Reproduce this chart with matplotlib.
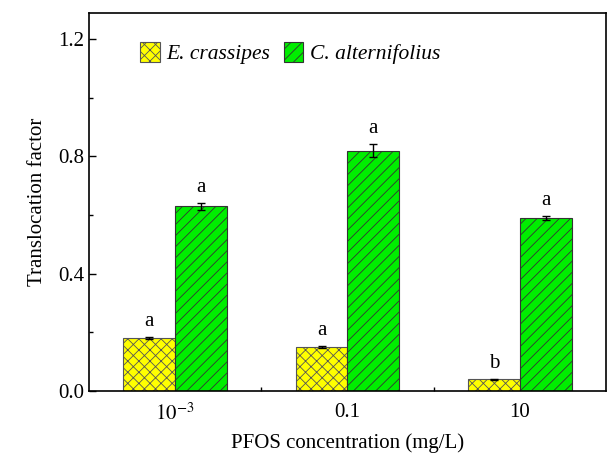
import numpy as np
import matplotlib.pyplot as plt
from matplotlib.ticker import MultipleLocator, FixedLocator

plt.rcParams['font.family'] = ['Liberation Serif', 'DejaVu Serif']
plt.rcParams['mathtext.fontset'] = 'stix'
plt.rcParams['hatch.linewidth'] = 0.6

conc = ['$10^{-3}$', '0.1', '10']
ec_vals = [0.18, 0.15, 0.04]
ec_err = [0.003, 0.003, 0.002]
ca_vals = [0.63, 0.82, 0.59]
ca_err = [0.012, 0.022, 0.006]
ec_sig = ['a', 'a', 'b']
ca_sig = ['a', 'a', 'a']

x = np.arange(len(conc))
w = 0.3

fig, ax = plt.subplots(figsize=(6.08, 4.61), dpi=100)
fig.subplots_adjust(left=0.146, right=0.997, top=0.972, bottom=0.152)

ax.bar(x - w/2, ec_vals, w, yerr=ec_err, color='#ffff00', edgecolor='#555555',
       hatch='xxx', linewidth=0.8, capsize=3, error_kw=dict(elinewidth=1, capthick=1),
       label='E. crassipes')
ax.bar(x + w/2, ca_vals, w, yerr=ca_err, color='#00ee00', edgecolor='#333333',
       hatch='///', linewidth=0.8, capsize=3, error_kw=dict(elinewidth=1, capthick=1),
       label='C. alternifolius')

for i in range(len(conc)):
    ax.text(x[i] - w/2, ec_vals[i] + ec_err[i] + 0.02, ec_sig[i], ha='center', va='bottom', fontsize=15)
    ax.text(x[i] + w/2, ca_vals[i] + ca_err[i] + 0.02, ca_sig[i], ha='center', va='bottom', fontsize=15)

ax.set_xlim(-0.5, 2.5)
ax.set_ylim(0, 1.29)
ax.set_xticks(x)
ax.set_xticklabels(conc)
ax.xaxis.set_minor_locator(FixedLocator([0.5, 1.5]))
ax.yaxis.set_minor_locator(MultipleLocator(0.2))
ax.set_yticks([0, 0.4, 0.8, 1.2])
ax.set_yticklabels(['0.0', '0.4', '0.8', '1.2'])
ax.tick_params(direction='in', labelsize=15, length=5, width=1)
ax.tick_params(which='minor', direction='in', length=3, width=1)
ax.tick_params(axis='x', which='major', length=0, pad=9)

ax.set_xlabel('PFOS concentration (mg/L)', fontsize=15, labelpad=6)
ax.set_ylabel('Translocation factor', fontsize=15, labelpad=8)

for s in ax.spines.values():
    s.set_linewidth(1.2)

leg = ax.legend(loc='upper left', ncol=2, frameon=False,
                prop={'style': 'italic', 'size': 15.5}, handlelength=0.9, handleheight=1.1,
                columnspacing=0.65, handletextpad=0.3, bbox_to_anchor=(0.062, 0.975))

fig.savefig('out.png', dpi=100)
